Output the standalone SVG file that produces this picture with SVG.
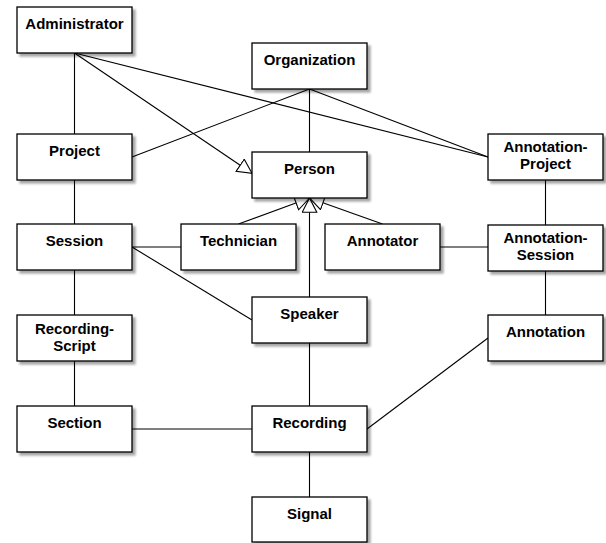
<svg xmlns="http://www.w3.org/2000/svg" width="606" height="543" viewBox="0 0 606 543">
<style>
.box{fill:#fff;stroke:#000;stroke-width:1.3;filter:url(#sh)}
.t{font-family:"Liberation Sans",Arial,Helvetica,sans-serif;font-weight:bold;font-size:15px;text-anchor:middle;fill:#000}
.c line{stroke:#000;stroke-width:1.1;fill:none}
.g{marker-end:url(#tri)}
</style>
<defs>
<filter id="sh" x="-10%" y="-10%" width="130%" height="140%">
<feDropShadow dx="3" dy="3" stdDeviation="1.3" flood-color="#000" flood-opacity="0.35"/>
</filter>
<marker id="tri" markerUnits="userSpaceOnUse" markerWidth="18" markerHeight="18" refX="15" refY="8" orient="auto" viewBox="0 0 18 18">
<path d="M0.7,0.7 L15,8 L0.7,15.3 Z" fill="#fff" stroke="#000" stroke-width="1.1"/>
</marker>
</defs>
<g id="connectors" class="c">
<line x1="74.5" y1="53" x2="74.5" y2="134"/>
<line x1="74.5" y1="180" x2="74.5" y2="224"/>
<line x1="74.5" y1="270" x2="74.5" y2="315"/>
<line x1="74.5" y1="361" x2="74.5" y2="406"/>
<line x1="74.5" y1="53" x2="488" y2="157"/>
<line x1="309.5" y1="89" x2="488" y2="157"/>
<line x1="309.5" y1="89" x2="132" y2="157"/>
<line x1="309.5" y1="89" x2="309.5" y2="152"/>
<line x1="132" y1="247" x2="181" y2="247"/>
<line x1="132" y1="247" x2="252" y2="320"/>
<line x1="440" y1="247" x2="488" y2="247"/>
<line x1="545.5" y1="180" x2="545.5" y2="225"/>
<line x1="545.5" y1="271" x2="545.5" y2="315"/>
<line x1="488" y1="338" x2="367" y2="429"/>
<line x1="309.5" y1="343" x2="309.5" y2="406"/>
<line x1="132" y1="429" x2="252" y2="429"/>
<line x1="309.5" y1="452" x2="309.5" y2="497"/>
<line class="g" x1="74.5" y1="53" x2="252" y2="173.3"/>
<line class="g" x1="238.5" y1="224" x2="309.5" y2="198"/>
<line class="g" x1="382.5" y1="224" x2="309.5" y2="198"/>
<line class="g" x1="309.5" y1="297" x2="309.5" y2="198"/>
</g>
<g id="administrator"><rect class="box" x="17" y="7" width="115" height="46"/><text class="t" x="74.5" y="29">Administrator</text></g>
<g id="organization"><rect class="box" x="252" y="43" width="115" height="46"/><text class="t" x="309.5" y="65">Organization</text></g>
<g id="project"><rect class="box" x="17" y="134" width="115" height="46"/><text class="t" x="74.5" y="156">Project</text></g>
<g id="person"><rect class="box" x="252" y="152" width="115" height="46"/><text class="t" x="309.5" y="174">Person</text></g>
<g id="annotation-project"><rect class="box" x="488" y="134" width="115" height="46"/><text class="t" x="545.5" y="152">Annotation-</text><text class="t" x="545.5" y="169">Project</text></g>
<g id="session"><rect class="box" x="17" y="224" width="115" height="46"/><text class="t" x="74.5" y="246">Session</text></g>
<g id="technician"><rect class="box" x="181" y="224" width="115" height="46"/><text class="t" x="238.5" y="246">Technician</text></g>
<g id="annotator"><rect class="box" x="325" y="224" width="115" height="46"/><text class="t" x="382.5" y="246">Annotator</text></g>
<g id="annotation-session"><rect class="box" x="488" y="225" width="115" height="46"/><text class="t" x="545.5" y="243">Annotation-</text><text class="t" x="545.5" y="260">Session</text></g>
<g id="speaker"><rect class="box" x="252" y="297" width="115" height="46"/><text class="t" x="309.5" y="319">Speaker</text></g>
<g id="recording-script"><rect class="box" x="17" y="315" width="115" height="46"/><text class="t" x="74.5" y="334">Recording-</text><text class="t" x="74.5" y="351">Script</text></g>
<g id="annotation"><rect class="box" x="488" y="315" width="115" height="46"/><text class="t" x="545.5" y="337">Annotation</text></g>
<g id="section"><rect class="box" x="17" y="406" width="115" height="46"/><text class="t" x="74.5" y="428">Section</text></g>
<g id="recording"><rect class="box" x="252" y="406" width="115" height="46"/><text class="t" x="309.5" y="428">Recording</text></g>
<g id="signal"><rect class="box" x="252" y="497" width="115" height="45"/><text class="t" x="309.5" y="519">Signal</text></g>
</svg>
